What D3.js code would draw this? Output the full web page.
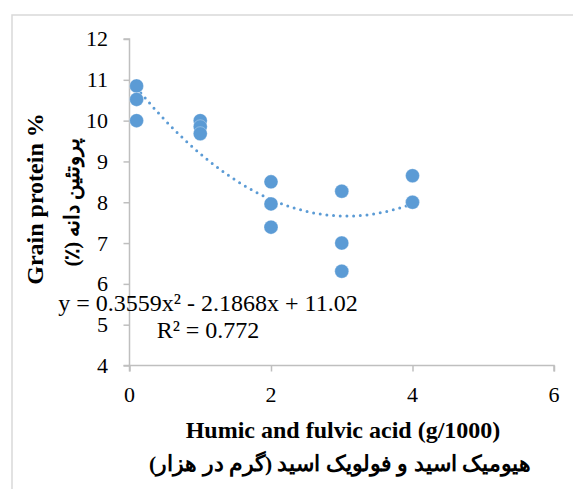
<!DOCTYPE html>
<html><head><meta charset="utf-8">
<script src="https://cdn.jsdelivr.net/npm/d3@7/dist/d3.min.js"></script>
<style>body{margin:0;background:#fff;}svg{display:block;}</style>
</head><body>
<script>
const xValues = [0.1, 0.1, 0.1, 1, 1, 1, 2, 2, 2, 3, 3, 3, 4, 4];
const yValues = [10.85, 10.52, 10.0, 10.0, 9.85, 9.68, 8.5, 7.96, 7.39, 8.27, 7.0, 6.31, 8.65, 8.0];
const xTicks = [0, 2, 4, 6];
const yTicks = [4, 5, 6, 7, 8, 9, 10, 11, 12];
const trendCoef = [11.02, -2.1868, 0.3559]; // c0 + c1 x + c2 x^2
const trendRange = [0.1, 4];
const eqText = "y = 0.3559x² - 2.1868x + 11.02";
const r2Text = "R² = 0.772";
const xTitle = "Humic and fulvic acid (g/1000)";
const xTitleFa = "هیومیک اسید و فولویک اسید (گرم در هزار)";
const yTitle = "Grain protein %";
const yTitleFa = "پروتئین دانه (٪)";

const W = 573, H = 489;
const color = "#5B9BD5", axisColor = "#BFBFBF";
const serif = "Liberation Serif";
const faFont = "Liberation Serif";

const svg = d3.select("body").append("svg").attr("width", W).attr("height", H)
  .attr("font-family", serif);
svg.append("rect").attr("x", 12).attr("y", 15).attr("width", 600).attr("height", 520)
  .attr("fill", "none").attr("stroke", "#D9D9D9").attr("stroke-width", 1.5);

const x = d3.scaleLinear().domain([0, 6]).range([129.5, 554]);
const y = d3.scaleLinear().domain([4, 12]).range([365.5, 39]);

const yAxis = svg.append("g").attr("transform", `translate(${x(0)},0)`)
  .call(d3.axisLeft(y).tickValues(yTicks).tickSize(6).tickFormat(""));
const xAxis = svg.append("g").attr("transform", `translate(0,${y(4)})`)
  .call(d3.axisBottom(x).tickValues(xTicks).tickSize(6).tickFormat(""));
[xAxis, yAxis].forEach(g => {
  g.select(".domain").attr("stroke", axisColor).attr("stroke-width", 1.5);
  g.selectAll(".tick line").attr("stroke", axisColor).attr("stroke-width", 1.5);
  g.selectAll(".tick text").remove();
});
yAxis.select(".domain").attr("d", `M-6,${y(12)}H0V${y(4)}H-6`);
xAxis.select(".domain").attr("d", `M${x(0)},6V0H${x(6)}V6`);

// tick labels
svg.append("g").selectAll("text").data(yTicks).join("text")
  .attr("x", 108).attr("y", d => y(d)).attr("dy", "0.34em").attr("text-anchor", "end")
  .attr("font-family", serif).attr("font-size", 22).attr("fill", "#000").text(d => d);
svg.append("g").selectAll("text").data(xTicks).join("text")
  .attr("x", d => x(d)).attr("y", 402).attr("text-anchor", "middle")
  .attr("font-family", serif).attr("font-size", 22).attr("fill", "#000").text(d => d);

// trendline
const trendPts = d3.range(0, 201).map(i => {
  const t = trendRange[0] + (trendRange[1] - trendRange[0]) * i / 200;
  return [t, trendCoef[0] + trendCoef[1] * t + trendCoef[2] * t * t];
});
svg.append("path").datum(trendPts)
  .attr("d", d3.line().x(d => x(d[0])).y(d => y(d[1])))
  .attr("fill", "none").attr("stroke", color).attr("stroke-width", 3)
  .attr("stroke-linecap", "round").attr("stroke-dasharray", "0 6.7");

// points
svg.append("g").selectAll("circle").data(xValues.map((v, i) => [v, yValues[i]]))
  .join("circle").attr("cx", d => x(d[0])).attr("cy", d => y(d[1])).attr("r", 7)
  .attr("fill", color).attr("stroke", "#fff").attr("stroke-width", 0.5).attr("stroke-opacity", 0.6);

// equation
svg.append("text").attr("x", 208).attr("y", 311).attr("text-anchor", "middle")
  .attr("font-family", serif).attr("font-size", 24).text(eqText);
svg.append("text").attr("x", 208).attr("y", 338).attr("text-anchor", "middle")
  .attr("font-family", serif).attr("font-size", 24).text(r2Text);

// axis titles
svg.append("text").attr("x", 340).attr("y", 471).attr("text-anchor", "middle").attr("direction", "rtl")
  .attr("font-family", faFont).attr("font-size", 21.5).attr("font-weight", "bold").text(xTitleFa);
svg.append("text").attr("x", 343).attr("y", 438).attr("text-anchor", "middle")
  .attr("font-family", serif).attr("font-size", 24).attr("font-weight", "bold").text(xTitle);
svg.append("text").attr("transform", "translate(79,202) rotate(-90)").attr("text-anchor", "middle").attr("direction", "rtl")
  .attr("font-family", faFont).attr("font-size", 20.5).attr("font-weight", "bold").text(yTitleFa);
svg.append("text").attr("transform", "translate(43,199) rotate(-90)").attr("text-anchor", "middle")
  .attr("font-family", serif).attr("font-size", 24).attr("font-weight", "bold").text(yTitle);
</script>
</body></html>
